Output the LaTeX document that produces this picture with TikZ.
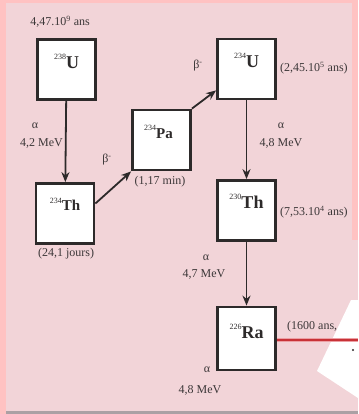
\documentclass[tikz,border=0pt]{standalone}
\usepackage{fontspec}
\setmainfont{Liberation Serif}
\usetikzlibrary{arrows.meta}

\definecolor{outerpink}{RGB}{255,194,194}
\definecolor{panel}{RGB}{242,212,216}
\definecolor{ink}{RGB}{45,42,42}
\definecolor{txt}{RGB}{60,55,56}
\definecolor{decayred}{RGB}{200,50,55}
\definecolor{halo}{RGB}{236,160,165}
\definecolor{shadow}{RGB}{172,160,164}

% mass number set small in front of the bold element symbol
\newcommand{\nuclide}[3]{{\fontsize{#3}{#3}\selectfont\raisebox{0.5em}{\fontsize{8}{9}\selectfont #1}\textbf{#2}}}

\begin{document}
\begin{tikzpicture}[x=1pt,y=-1pt,
  nucbox/.style={draw=ink, line width=2.8pt, fill=white, minimum width=58pt,
    minimum height=60pt, inner sep=0pt},
  nuclbl/.style={text=ink, inner sep=0pt},
  lbl/.style={font=\fontsize{12}{14}\selectfont, text=txt, inner sep=0pt},
  decay/.style={draw=ink, line width=1.8pt, -{Stealth[length=10pt,width=8pt]}},
  redline/.style={draw=decayred, line width=1.6pt}]

  % page and panel
  \useasboundingbox (0,0) rectangle (358,414);
  \fill[outerpink] (0,0) rectangle (358,414);
  \fill[panel] (6,3) rectangle (358,414);
  \fill[outerpink] (352,0) rectangle (358,240);
  \fill[shadow] (6,411) rectangle (358,414);
  \fill[white] (317,371) -- (351,300) -- (358,300) -- (358,398) -- cycle;

  % nuclide boxes
  \node[nucbox] (u238)  at (66.5,69.5)  {};
  \node[nucbox] (th234) at (65,213.5)   {};
  \node[nucbox] (pa234) at (161.5,140)  {};
  \node[nucbox] (u234)  at (246.5,69)   {};
  \node[nucbox] (th230) at (246.5,210.5){};
  \node[nucbox, minimum height=63pt] (ra226) at (246.5,338.5) {};

  \node[nuclbl] (lu238)  at ([yshift=8pt]u238.center)  {\nuclide{238}{U}{18}};
  \node[nuclbl] (lth234) at ([yshift=9pt]th234.center) {\nuclide{234}{Th}{15}};
  \node[nuclbl] (lpa234) at ([xshift=-3pt,yshift=8pt]pa234.center) {\nuclide{234}{Pa}{15}};
  \node[nuclbl] (lu234)  at ([yshift=9pt]u234.center)  {\nuclide{234}{U}{18}};
  \node[nuclbl] (lth230) at ([yshift=9pt]th230.center) {\nuclide{230}{Th}{18}};
  \node[nuclbl] (lra226) at ([yshift=7pt]ra226.center) {\nuclide{226}{Ra}{18}};

  % decay arrows
  \draw[decay] (u238) -- (th234);
  \draw[decay] ([yshift=10pt]th234.east) -- (pa234.south west);
  \draw[decay] (pa234.north east) -- ([yshift=10pt]u234.south west);
  \draw[decay] (u234) -- (th230);
  \draw[decay] (th230) -- (ra226);

  % continuation of the chain
  \coordinate (chainend) at (358,340);
  \draw[draw=halo, line width=4pt] (ra226.east |- chainend) -- (chainend);
  \draw[redline] (ra226.east |- chainend) -- (chainend);
  \fill[ink] (353,350) circle (1.2pt);

  % half-lives and energies
  \node[lbl] (h238) at (60,22) {4,47.10\textsuperscript{9} ans};
  \node[lbl] (a1) at (35,126) {α};
  \node[lbl, anchor=east] (e1) at (63,143) {4,2 MeV};
  \node[lbl] (b1) at (107,160) {β\textsuperscript{-}};
  \node[lbl] (h234) at (66,254) {(24,1 jours)};
  \node[lbl] (hpa) at (160,182) {(1,17 min)};
  \node[lbl] (b2) at (198,66) {β\textsuperscript{-}};
  \node[lbl, anchor=west] (hu234) at (280,68) {(2,45.10\textsuperscript{5} ans)};
  \node[lbl] (a2) at (281,126) {α};
  \node[lbl] (e2) at (281,143) {4,8 MeV};
  \node[lbl, anchor=west] (h230) at (280,212) {(7,53.10\textsuperscript{4} ans)};
  \node[lbl] (a3) at (206,258) {α};
  \node[lbl] (e3) at (204,274) {4,7 MeV};
  \node[lbl, anchor=west] (h226) at (287,327) {(1600 ans,};
  \node[lbl] (a4) at (207,370) {α};
  \node[lbl] (e4) at (200,390) {4,8 MeV};
\end{tikzpicture}
\end{document}
